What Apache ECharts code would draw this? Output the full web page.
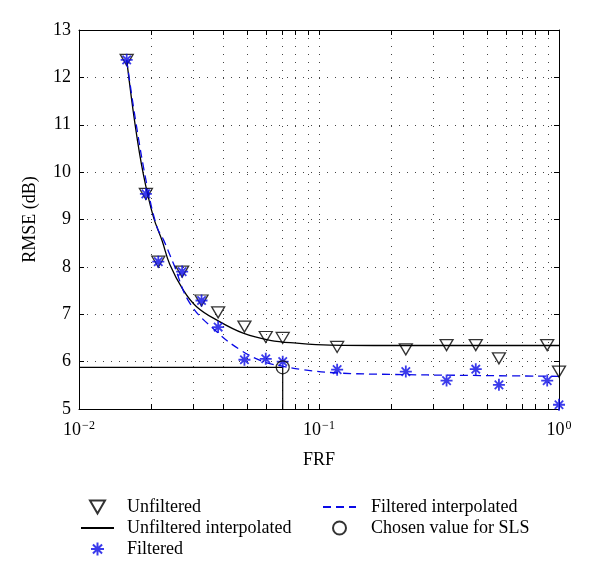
<!DOCTYPE html>
<html><head><meta charset="utf-8">
<script src="https://cdn.jsdelivr.net/npm/echarts@6/dist/echarts.min.js"></script>
<style>html,body{margin:0;padding:0;background:#fff}#c{width:600px;height:578px}</style>
</head><body><div id="c"></div>
<script>
// ---- data ----
const frf = [0.0158, 0.0190, 0.0214, 0.0269, 0.0324, 0.0380, 0.0489, 0.0600, 0.0706, 0.119, 0.230, 0.340, 0.450, 0.562, 0.893, 1.0];
const unfiltered = [12.37, 9.54, 8.11, 7.90, 7.29, 7.04, 6.74, 6.52, 6.50, 6.31, 6.26, 6.35, 6.35, 6.07, 6.35, 5.79];
const filtered = [12.37, 9.54, 8.11, 7.90, 7.29, 6.73, 6.04, 6.06, 6.00, 5.83, 5.79, 5.60, 5.84, 5.51, 5.60, 5.09];

const unfInterpX = [0.0158, 0.0171, 0.0185, 0.0204, 0.0222, 0.0239, 0.0272, 0.0309, 0.0374, 0.0483, 0.0625, 0.0807, 0.111, 0.2, 0.4, 1.0];
const unfInterpY = [12.37, 11.03, 9.98, 9.06, 8.55, 8.05, 7.51, 7.16, 6.88, 6.60, 6.45, 6.39, 6.35, 6.34, 6.34, 6.34];

const filInterpX = [0.0158, 0.0172, 0.0192, 0.0211, 0.0225, 0.0247, 0.0290, 0.0375, 0.0469, 0.0586, 0.0710, 0.0857, 0.12, 0.2, 0.4, 1.0];
const filInterpY = [12.37, 11.1, 9.72, 8.85, 8.57, 8.08, 7.23, 6.63, 6.25, 6.00, 5.90, 5.83, 5.76, 5.73, 5.71, 5.69];

const chosenFRF = 0.0706;
const chosenRMSE = 5.88;

const xTickValues = [0.01,0.02,0.03,0.04,0.05,0.06,0.07,0.08,0.09,0.1,0.2,0.3,0.4,0.5,0.6,0.7,0.8,0.9,1];
const xLabelValues = [0.01, 0.1, 1];
const yMin = 5, yMax = 13, yStep = 1;

// ---- chart ----
const FONT = 'Liberation Serif';
const BLUE = '#0a0ae6';
const triPath = 'path://M0,0 L12,0 L6,10.4 Z';
const starPath = 'path://M5,0 L5,10 M0,5 L10,5 M1.5,1.5 L8.5,8.5 M8.5,1.5 L1.5,8.5';
const hiddenSym = {color: 'rgba(0,0,0,0)', borderColor: 'rgba(0,0,0,0)', borderWidth: 0};

const chart = echarts.init(document.getElementById('c'), null, {renderer: 'canvas'});
const gridLine = {show: true, lineStyle: {color: '#444', width: 1, type: [1, 7]}};
const axisLineStyle = {show: true, lineStyle: {color: '#000', width: 1}};

chart.setOption({
  animation: false,
  backgroundColor: '#fff',
  grid: {left: 79, right: 41, top: 30, bottom: 169},
  xAxis: [{
    type: 'log', logBase: 10, min: 0.01, max: 1, position: 'bottom',
    name: 'FRF', nameLocation: 'middle', nameGap: 42,
    nameTextStyle: {fontFamily: FONT, fontSize: 18, color: '#000'},
    axisLine: axisLineStyle,
    axisTick: {show: true, inside: true, length: 5, customValues: xTickValues, lineStyle: {color: '#000'}},
    axisLabel: {
      customValues: xLabelValues, margin: 11, fontFamily: FONT, fontSize: 18, color: '#000',
      formatter: v => { const e = Math.round(Math.log10(v)); return '10{sup|' + (e < 0 ? '\u2212' + (-e) : e) + '}'; },
      rich: {sup: {fontFamily: FONT, fontSize: 12, color: '#000', verticalAlign: 'bottom', padding: [0, 0, 9, 1]}}
    },
    splitLine: gridLine
  }, {
    type: 'log', logBase: 10, min: 0.01, max: 1, position: 'top',
    axisLine: axisLineStyle,
    axisTick: {show: true, inside: true, length: 5, customValues: xTickValues, lineStyle: {color: '#000'}},
    axisLabel: {show: false},
    splitLine: {show: false}
  }],
  yAxis: [{
    type: 'value', min: yMin, max: yMax, interval: yStep, position: 'left',
    name: 'RMSE (dB)', nameLocation: 'middle', nameGap: 40, nameRotate: 90,
    nameTextStyle: {fontFamily: FONT, fontSize: 18, color: '#000'},
    axisLine: axisLineStyle,
    axisTick: {show: true, inside: true, length: 5, lineStyle: {color: '#000'}},
    axisLabel: {margin: 8, fontFamily: FONT, fontSize: 18, color: '#000'},
    splitLine: gridLine
  }, {
    type: 'value', min: yMin, max: yMax, interval: yStep, position: 'right',
    axisLine: axisLineStyle,
    axisTick: {show: true, inside: true, length: 5, lineStyle: {color: '#000'}},
    axisLabel: {show: false},
    splitLine: {show: false}
  }],
  legend: [{
    data: ['Unfiltered', {name: 'Unfiltered interpolated', itemStyle: hiddenSym}, 'Filtered'],
    orient: 'vertical', left: 80, top: 497, padding: 0, itemWidth: 33, itemHeight: 13, itemGap: 1,
    textStyle: {fontFamily: FONT, fontSize: 18, color: '#000', lineHeight: 20, padding: [0, 0, 0, 8]}
  }, {
    data: [{name: 'Filtered interpolated', itemStyle: hiddenSym}, 'Chosen value for SLS'],
    orient: 'vertical', left: 322, top: 497, padding: 0, itemWidth: 33, itemHeight: 13, itemGap: 1,
    textStyle: {fontFamily: FONT, fontSize: 18, color: '#000', lineHeight: 20, padding: [0, 0, 0, 10]}
  }],
  series: [{
    name: 'Chosen lines', type: 'line', silent: true, symbol: 'none',
    data: [[0.01, chosenRMSE], [chosenFRF, chosenRMSE], [chosenFRF, yMin]],
    lineStyle: {color: '#000', width: 1.2}, z: 2
  }, {
    name: 'Unfiltered interpolated', type: 'line', symbol: 'none', smooth: 0.4,
    data: unfInterpX.map((x, i) => [x, unfInterpY[i]]),
    lineStyle: {color: '#000', width: 1.3}, itemStyle: {color: '#000'}, z: 3
  }, {
    name: 'Filtered interpolated', type: 'line', symbol: 'none', smooth: 0.4,
    data: filInterpX.map((x, i) => [x, filInterpY[i]]),
    lineStyle: {color: BLUE, width: 1.3, type: [8, 5]}, itemStyle: {color: BLUE}, z: 3
  }, {
    name: 'Unfiltered', type: 'scatter', symbol: triPath, symbolSize: [13, 11],
    data: frf.map((x, i) => [x, unfiltered[i]]),
    itemStyle: {color: 'rgba(0,0,0,0)', borderColor: '#000', borderWidth: 1.3}, z: 4
  }, {
    name: 'Filtered', type: 'scatter', symbol: starPath, symbolSize: 12,
    data: frf.map((x, i) => [x, filtered[i]]),
    itemStyle: {color: 'rgba(0,0,0,0)', borderColor: BLUE, borderWidth: 1.8}, z: 5
  }, {
    name: 'Chosen value for SLS', type: 'scatter', symbol: 'circle', symbolSize: 13,
    data: [[chosenFRF, chosenRMSE]],
    itemStyle: {color: 'rgba(0,0,0,0)', borderColor: '#000', borderWidth: 1.3}, z: 6
  }]
});
</script>
</body></html>
